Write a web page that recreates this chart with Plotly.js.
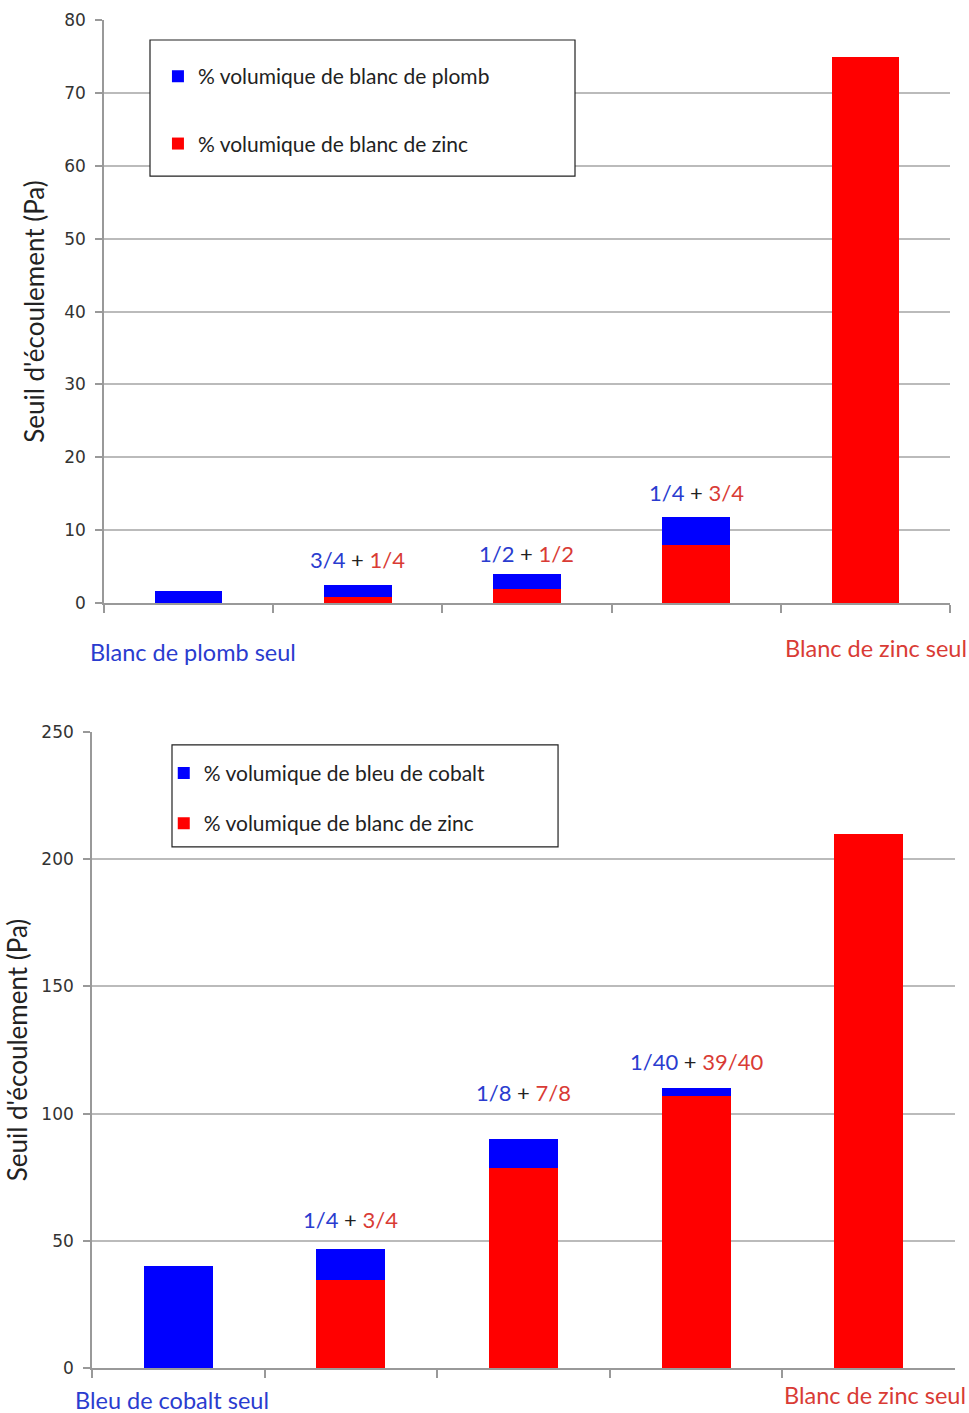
<!DOCTYPE html>
<html>
<head>
<meta charset="utf-8">
<script src="https://cdn.plot.ly/plotly-3.0.1.min.js"></script>
<style>html,body{margin:0;padding:0;background:#fff;}#chart{width:969px;height:1413px;}</style>
</head>
<body>
<div id="chart"></div>
<script>
// ---- Data (top chart: blanc de plomb / blanc de zinc) ----
const topCategories = ["Blanc de plomb seul", "3/4 + 1/4", "1/2 + 1/2", "1/4 + 3/4", "Blanc de zinc seul"];
const topZinc  = [0, 0.9, 1.9, 7.9, 75];
const topPlomb = [1.7, 1.6, 2.1, 3.9, 0];
const topMixBlue = ["3/4", "1/2", "1/4"];
const topMixRed  = ["1/4", "1/2", "3/4"];

// ---- Data (bottom chart: bleu de cobalt / blanc de zinc) ----
const botCategories = ["Bleu de cobalt seul", "1/4 + 3/4", "1/8 + 7/8", "1/40 + 39/40", "Blanc de zinc seul "];
const botZinc   = [0, 34.8, 78.5, 106.9, 210];
const botCobalt = [40, 11.9, 11.7, 3.3, 0];
const botMixBlue = ["1/4", "1/8", "1/40"];
const botMixRed  = ["3/4", "7/8", "39/40"];

const yTitle = "Seuil d'écoulement (Pa)";
const topLegendNames = ["% volumique de blanc de plomb", "% volumique de blanc de zinc"];
const botLegendNames = ["% volumique de bleu de cobalt", "% volumique de blanc de zinc"];

// ---- Styles ----
const BLUE = "#0000ff", RED = "#ff0000";
const TXT_BLUE = "#2a3ccf", TXT_RED = "#d93b35";
const FONT = "Lato, 'Open Sans', sans-serif";
const TICKFONT = {family: "'DejaVu Sans', sans-serif", size: 17, color: "#333"};
const topLabelShift = [10, 5, 9];
const botLabelShift = [14, 31, 11];

const traces = [
  {type: "bar", x: topCategories, y: topZinc, name: topLegendNames[1], marker: {color: RED},
   xaxis: "x", yaxis: "y", legend: "legend", legendgroup: "tz", legendrank: 2, hoverinfo: "x+y+name"},
  {type: "bar", x: topCategories, y: topPlomb, name: topLegendNames[0], marker: {color: BLUE},
   xaxis: "x", yaxis: "y", legend: "legend", legendgroup: "tp", legendrank: 1, hoverinfo: "x+y+name"},
  {type: "bar", x: botCategories, y: botZinc, name: botLegendNames[1], marker: {color: RED},
   xaxis: "x2", yaxis: "y2", legend: "legend2", legendgroup: "bz", legendrank: 2, hoverinfo: "x+y+name"},
  {type: "bar", x: botCategories, y: botCobalt, name: botLegendNames[0], marker: {color: BLUE},
   xaxis: "x2", yaxis: "y2", legend: "legend2", legendgroup: "bc", legendrank: 1, hoverinfo: "x+y+name"}
];

function mixLabel(b, r) {
  return '<span style="color:' + TXT_BLUE + '">' + b + '</span> + <span style="color:' + TXT_RED + '">' + r + '</span>';
}

const annotations = [];
for (let i = 0; i < 3; i++) {
  annotations.push({xref: "x", yref: "y", x: topCategories[i + 1], y: topZinc[i + 1] + topPlomb[i + 1],
    yanchor: "bottom", yshift: topLabelShift[i], showarrow: false,
    text: mixLabel(topMixBlue[i], topMixRed[i]), font: {family: FONT, size: 22, color: "#222"}});
  annotations.push({xref: "x2", yref: "y2", x: botCategories[i + 1], y: botZinc[i + 1] + botCobalt[i + 1],
    yanchor: "bottom", yshift: botLabelShift[i], showarrow: false,
    text: mixLabel(botMixBlue[i], botMixRed[i]), font: {family: FONT, size: 22, color: "#222"}});
}
// end-category labels
annotations.push({xref: "x", yref: "paper", x: topCategories[0], y: 0.5386, xshift: 4, yanchor: "middle", showarrow: false,
  text: topCategories[0], font: {family: FONT, size: 23.5, color: TXT_BLUE}});
annotations.push({xref: "x", yref: "paper", x: topCategories[4], y: 0.5414, xshift: 11, yanchor: "middle", showarrow: false,
  text: topCategories[4], font: {family: FONT, size: 23.5, color: TXT_RED}});
annotations.push({xref: "x2", yref: "paper", x: botCategories[0], y: 0, xshift: -6, yshift: -3, yanchor: "bottom", showarrow: false,
  text: botCategories[0], font: {family: FONT, size: 23.5, color: TXT_BLUE}});
annotations.push({xref: "x2", yref: "paper", x: botCategories[4], y: 0.0035, xshift: 6, yshift: -3, yanchor: "bottom", showarrow: false,
  text: botCategories[4].trim(), font: {family: FONT, size: 23.5, color: TXT_RED}});

function xAxis(domain, anchor) {
  return {domain: domain, anchor: anchor, type: "category", range: [-0.5, 4.5], autorange: false,
    showticklabels: false, ticks: "outside",
    tickson: "boundaries", ticklen: 8, tickcolor: "#999", tickwidth: 1.5, showline: true, linecolor: "#999",
    linewidth: 1.5, showgrid: false, zeroline: false, fixedrange: true};
}
function yAxis(domain, anchor, range, dtick, standoff) {
  return {domain: domain, anchor: anchor, range: range, dtick: dtick, tick0: 0, showgrid: true, gridcolor: "#bbb",
    gridwidth: 1.5, showline: true, linecolor: "#999", linewidth: 1.5, ticks: "outside", ticklen: 7,
    tickcolor: "#999", tickwidth: 1.5, ticklabelstandoff: 6, tickfont: TICKFONT, zeroline: false, fixedrange: true,
    title: {text: yTitle, font: {family: FONT, size: 26, color: "#222"}, standoff: standoff}};
}

const layout = {
  width: 969, height: 1413,
  margin: {l: 0, r: 0, t: 0, b: 0},
  paper_bgcolor: "#fff", plot_bgcolor: "#fff",
  barmode: "stack", bargap: 0.6,
  showlegend: true,
  xaxis: xAxis([0.1073, 0.9804], "y"),
  yaxis: yAxis([0.5732, 0.9858], "x", [0, 80], 10, 12),
  xaxis2: xAxis([0.0949, 0.9856], "y2"),
  yaxis2: yAxis([0.0318, 0.4820], "x2", [0, 250], 50, 6),
  legend: {x: 0.163, y: 0.9603, xanchor: "left", yanchor: "top", bgcolor: "rgba(0,0,0,0)", borderwidth: 0,
    tracegroupgap: 37, font: {family: FONT, size: 21, color: "#222"}},
  legend2: {x: 0.169, y: 0.4672, xanchor: "left", yanchor: "top", bgcolor: "rgba(0,0,0,0)", borderwidth: 0,
    tracegroupgap: 20, font: {family: FONT, size: 21, color: "#222"}},
  shapes: [
    {type: "rect", xref: "paper", yref: "paper", x0: 0.1548, x1: 0.5934, y0: 0.8754, y1: 0.9717,
     line: {color: "#222", width: 1.2}, fillcolor: "#fff", layer: "above"},
    {type: "rect", xref: "paper", yref: "paper", x0: 0.1775, x1: 0.5759, y0: 0.4006, y1: 0.4728,
     line: {color: "#222", width: 1.2}, fillcolor: "#fff", layer: "above"}
  ],
  annotations: annotations
};

Plotly.newPlot("chart", traces, layout, {displayModeBar: false, staticPlot: false});
</script>
</body>
</html>
